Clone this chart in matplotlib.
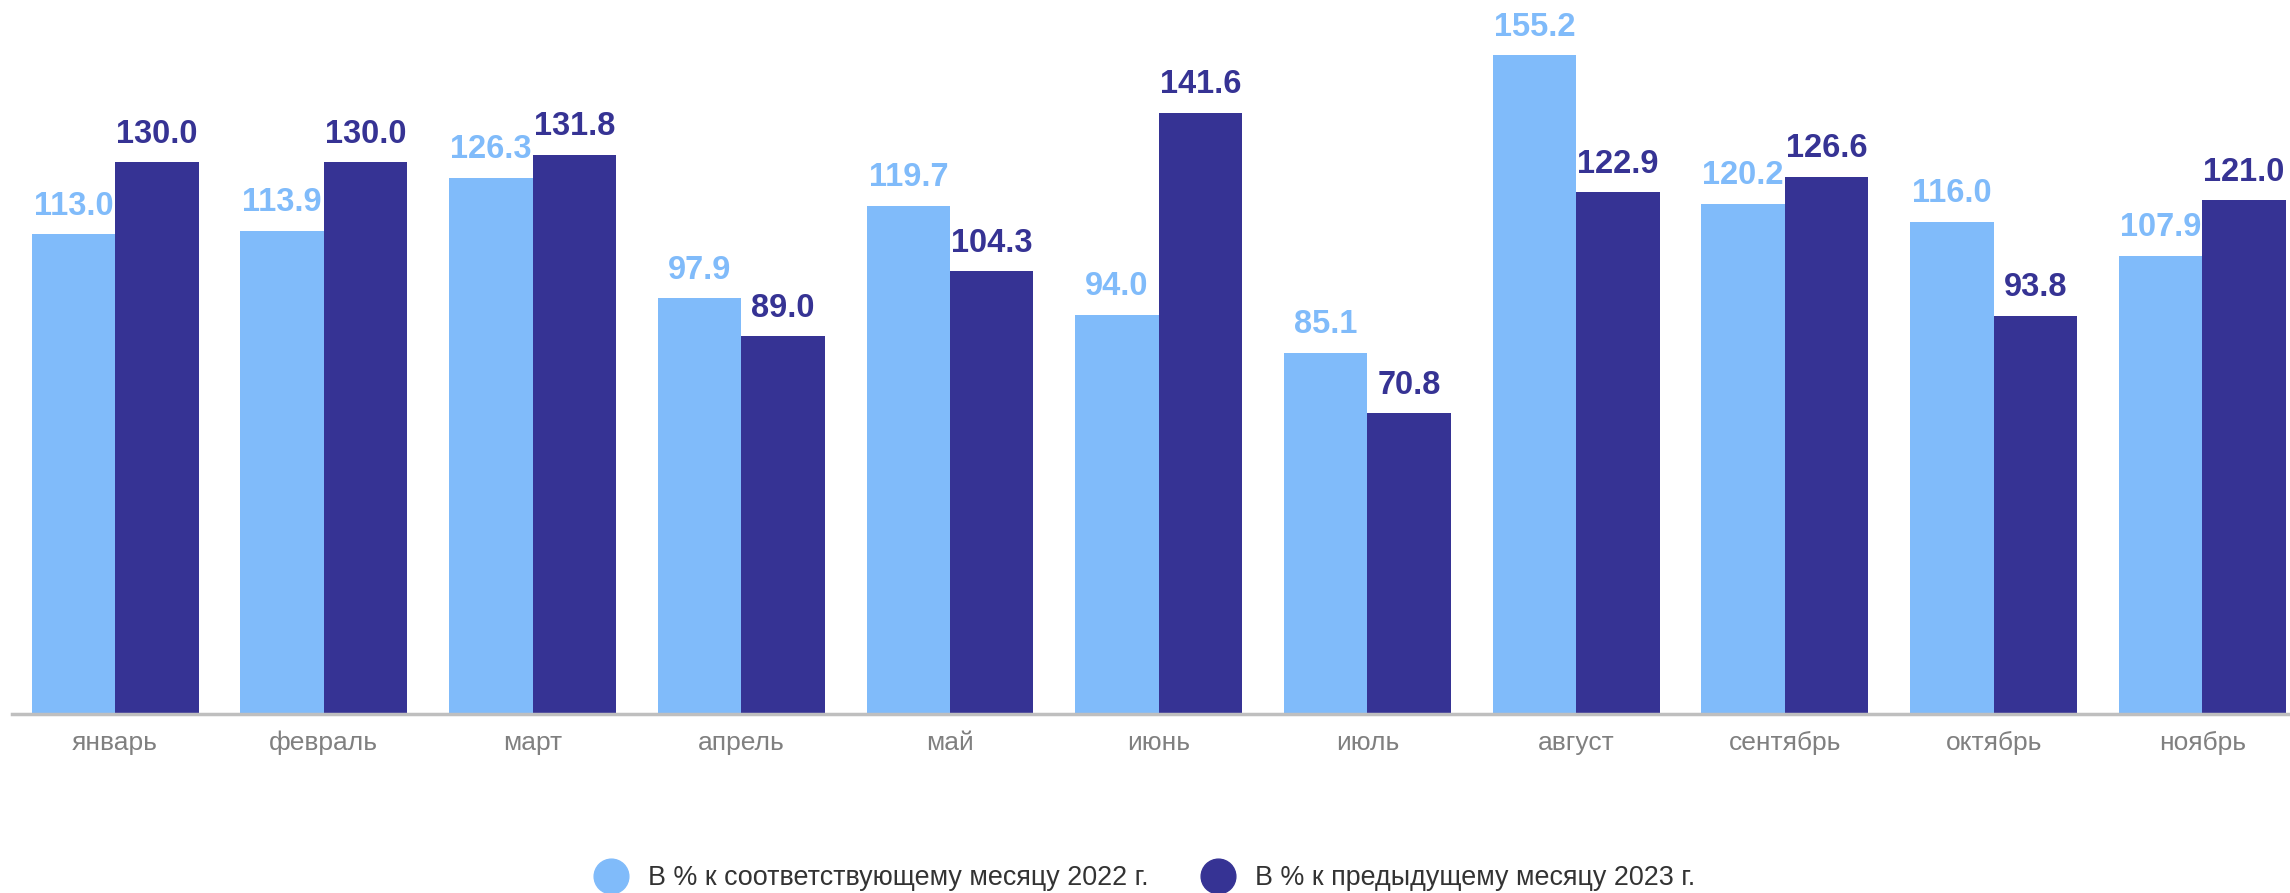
import matplotlib
matplotlib.use("Agg")
import matplotlib.pyplot as plt
from matplotlib.lines import Line2D
import numpy as np

plt.rcParams['font.family'] = ['Liberation Sans', 'DejaVu Sans']

# Данные по месяцам
months = ['январь', 'февраль', 'март', 'апрель', 'май', 'июнь', 'июль',
          'август', 'сентябрь', 'октябрь', 'ноябрь']
vs_2022 = [113.0, 113.9, 126.3, 97.9, 119.7, 94.0, 85.1, 155.2, 120.2, 116.0, 107.9]
vs_prev = [130.0, 130.0, 131.8, 89.0, 104.3, 141.6, 70.8, 122.9, 126.6, 93.8, 121.0]
series_names = ['В % к соответствующему месяцу 2022 г.',
                'В % к предыдущему месяцу 2023 г.']

light = '#80BBFA'
dark = '#363394'

fig = plt.figure(figsize=(22.9, 8.93), dpi=100)
ax = fig.add_axes([12 / 2290, 179 / 893, 1 - 12 / 2290, 714 / 893])

x = np.arange(len(months))
w = 0.4
b1 = ax.bar(x - w / 2, vs_2022, w, color=light)
b2 = ax.bar(x + w / 2, vs_prev, w, color=dark)

# Подписи значений над столбцами
for bars, col in ((b1, light), (b2, dark)):
    for bar in bars:
        h = bar.get_height()
        ax.annotate(f'{h:.1f}', (bar.get_x() + bar.get_width() / 2, h),
                    xytext=(0, 9), textcoords='offset points',
                    ha='center', va='bottom', fontsize=23.5,
                    fontweight='bold', color=col)

ax.set_xlim(-0.494, 10.42)
ax.set_ylim(0, 168.2)
ax.set_xticks(x)
ax.set_xticklabels(months, fontsize=19, color='#808080')
ax.tick_params(axis='x', length=0, pad=12)
ax.set_yticks([])
for s in ('top', 'right', 'left'):
    ax.spines[s].set_visible(False)
ax.spines['bottom'].set_color('#BFBFBF')
ax.spines['bottom'].set_linewidth(2.5)

handles = [Line2D([], [], marker='o', linestyle='none', markersize=25,
                  markerfacecolor=c, markeredgecolor=c) for c in (light, dark)]
fig.legend(handles, series_names, loc='center', bbox_to_anchor=(0.5, 15 / 893),
           ncol=2, frameon=False, fontsize=19.4, labelcolor='#333333',
           handlelength=1.2, handletextpad=0.75, columnspacing=2.0,
           borderaxespad=0, borderpad=0)

fig.savefig('out.png', dpi=100)
